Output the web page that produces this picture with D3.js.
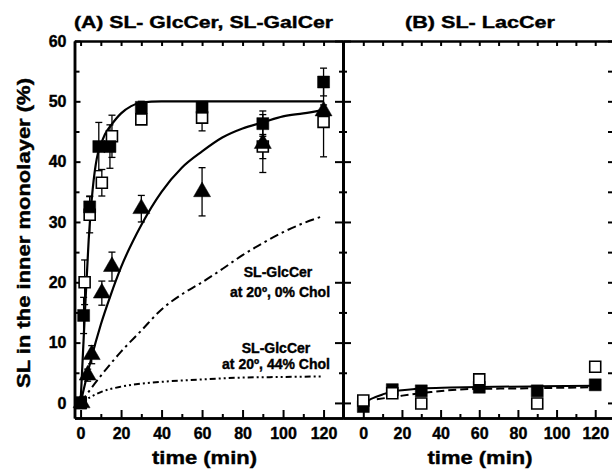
<!DOCTYPE html>
<html>
<head>
<meta charset="utf-8">
<script src="https://cdn.jsdelivr.net/npm/d3@7"></script>
<style>
    body { margin: 0; background: white; }
    svg { display: block; }
</style>
</head>
<body>
<div id="container"></div>
<script>
// panel A: SL-GlcCer / SL-GalCer, panel B: SL-LacCer

// panel A, filled squares
const aFilledTime = [0, 1.5, 4.5, 9, 14.5, 30, 60, 90, 120]
const aFilledVal = [0, 14.5, 32.5, 42.5, 42.5, 49, 49, 46.3, 53.2]
const aFilledErr = [0, 3, 1.8, 4, 3.6, 1, 0.8, 2.1, 2.3]

// panel A, open squares
const aOpenTime = [0, 2, 4.5, 10.5, 15.5, 30, 60, 90, 120]
const aOpenVal = [0, 20, 31.2, 36.5, 44.2, 47, 47.3, 42.5, 46.6]
const aOpenErr = [0, 3.7, 3, 2.2, 3.5, 0.8, 2.2, 2, 5.8]

// panel A, filled triangles
const aTriTime = [0.5, 3.5, 5.5, 10.5, 15.5, 30, 60, 90, 120]
const aTriVal = [0, 4.6, 8, 18.2, 22.6, 32.2, 35, 43, 48.4]
const aTriErr = [0, 1, 1.5, 2, 2.4, 2.2, 4, 4.8, 1]

// fitted curves
const fastTime = [0, 2, 4, 6, 8, 10, 12, 15, 20, 25, 30, 40, 60, 90, 120]
const fastVal = [0, 14, 27, 35.5, 40.5, 42.8, 44.5, 46, 48, 49.2, 49.8, 50, 50, 50, 50]
const slowTime = [0, 5, 10, 15, 20, 30, 40, 50, 60, 70, 80, 90, 100, 110, 120]
const slowVal = [0, 7, 13, 18, 22.5, 29.5, 35, 39, 41.7, 44, 45.5, 46.5, 47.5, 48, 48.6]
const chol0Time = [0, 10, 20, 30, 40, 50, 60, 70, 80, 90, 100, 110, 120]
const chol0Val = [0, 4.5, 8.5, 12, 15.5, 18, 20, 22.2, 24.5, 26.5, 28.3, 29.8, 31]
const chol44Time = [0, 5, 10, 20, 30, 40, 60, 80, 100, 120]
const chol44Val = [0, 1, 1.8, 2.7, 3.2, 3.5, 3.9, 4.2, 4.3, 4.4]

// panel B
const bTime = [0, 15, 30, 60, 90, 120]
const bFilledVal = [-0.6, 2.2, 2.0, 2.6, 2.0, 3.0]
const bOpenVal = [0.4, 1.6, -0.1, 3.9, -0.1, 6.0]
const bSolidTime = [0, 5, 10, 15, 20, 30, 45, 60, 90, 120]
const bSolidVal = [0, 0.8, 1.4, 1.9, 2.1, 2.4, 2.55, 2.65, 2.75, 2.85]
const bDashTime = [7, 20, 35, 55, 80, 120]
const bDashVal = [0.6, 1.2, 1.8, 2.3, 2.4, 2.6]

const xTicks = [0, 20, 40, 60, 80, 100, 120]
const xMinor = [10, 30, 50, 70, 90, 110]
const yTicks = [0, 10, 20, 30, 40, 50, 60]
const yMinor = [5, 15, 25, 35, 45, 55]

const w = 612
const h = 473
const font = "'Liberation Sans', Arial, Helvetica, sans-serif"

const svg = d3.select("#container")
    .append("svg")
    .attr("width", w)
    .attr("height", h)
    .style("font-family", font)

const xA = d3.scaleLinear().domain([-3, 129.6]).range([74.5, 343])
const xB = d3.scaleLinear().domain([-10.5, 129.2]).range([343, 613])
const y = d3.scaleLinear().domain([-2.5, 60]).range([418, 41])

function styleAxis(g, labels) {
    g.select(".domain").attr("stroke-width", 2.5)
    g.selectAll(".tick line").attr("stroke-width", 2)
    g.selectAll(".tick text")
        .style("font-family", font)
        .style("font-weight", "bold")
        .style("font-size", "16px")
        .attr("fill", "black")
        .attr("stroke", "black")
        .attr("stroke-width", 0.4)
    if (!labels) g.selectAll(".tick text").remove()
}

function addAxis(axis, transform, labels) {
    svg.append("g")
        .attr("transform", transform)
        .call(axis)
        .call((g) => styleAxis(g, labels))
}

// bottom axes
addAxis(d3.axisBottom(xA).tickValues(xTicks).tickSize(-8).tickSizeOuter(0).tickPadding(10), "translate(0,418)", true)
addAxis(d3.axisBottom(xA).tickValues(xMinor).tickSize(-4).tickSizeOuter(0), "translate(0,418)", false)
addAxis(d3.axisBottom(xB).tickValues(xTicks).tickSize(-8).tickSizeOuter(0).tickPadding(10), "translate(0,418)", true)
addAxis(d3.axisBottom(xB).tickValues(xMinor).tickSize(-4).tickSizeOuter(0), "translate(0,418)", false)

// top axes
addAxis(d3.axisTop(xA).tickValues(xTicks.concat(xMinor)).tickSize(-5).tickSizeOuter(0), "translate(0,41)", false)
addAxis(d3.axisTop(xB).tickValues(xTicks.concat(xMinor)).tickSize(-5).tickSizeOuter(0), "translate(0,41)", false)

// left axis of A
addAxis(d3.axisLeft(y).tickValues(yTicks).tickSize(-6).tickSizeOuter(0).tickPadding(8), "translate(74.5,0)", true)
addAxis(d3.axisLeft(y).tickValues(yMinor).tickSize(-5).tickSizeOuter(0), "translate(74.5,0)", false)

// divider between panels, ticks on both sides
addAxis(d3.axisLeft(y).tickValues(yTicks).tickSize(8).tickSizeOuter(0), "translate(343,0)", false)
addAxis(d3.axisRight(y).tickValues(yTicks).tickSize(8).tickSizeOuter(0), "translate(343,0)", false)
addAxis(d3.axisLeft(y).tickValues(yMinor).tickSize(4).tickSizeOuter(0), "translate(343,0)", false)
addAxis(d3.axisRight(y).tickValues(yMinor).tickSize(4).tickSizeOuter(0), "translate(343,0)", false)

// right axis of B
addAxis(d3.axisLeft(y).tickValues(yTicks.concat(yMinor)).tickSize(5).tickSizeOuter(0), "translate(613,0)", false)

// curves
function curve(xs, ts, vs, dash, width) {
    const line = d3.line()
        .x((d) => xs(d[0]))
        .y((d) => y(d[1]))
        .curve(d3.curveMonotoneX)
    svg.append("path")
        .datum(ts.map((t, i) => [t, vs[i]]))
        .attr("d", line)
        .attr("fill", "none")
        .attr("stroke", "black")
        .attr("stroke-width", width)
        .attr("stroke-dasharray", dash)
}

curve(xA, chol0Time, chol0Val, "9,4,2.5,4", 2)
curve(xA, chol44Time, chol44Val, "6,3,2,3,2,3", 2)
curve(xA, fastTime, fastVal, null, 2.2)
curve(xA, slowTime, slowVal, null, 2.2)
curve(xB, bSolidTime, bSolidVal, null, 2)
curve(xB, bDashTime, bDashVal, "8,4", 2)

// error bars
function errorBars(xs, ts, vs, es) {
    const data = ts.map((t, i) => ({ t: t, v: vs[i], e: es[i] })).filter((d) => d.e > 0)
    const g = svg.append("g")
        .attr("stroke", "black")
        .attr("stroke-width", 1.3)
    g.selectAll(null)
        .data(data)
        .enter()
        .append("line")
        .attr("x1", (d) => xs(d.t))
        .attr("x2", (d) => xs(d.t))
        .attr("y1", (d) => y(d.v - d.e))
        .attr("y2", (d) => y(d.v + d.e))
    g.selectAll(null)
        .data(data.flatMap((d) => [[d.t, d.v - d.e], [d.t, d.v + d.e]]))
        .enter()
        .append("line")
        .attr("x1", (d) => xs(d[0]) - 3.5)
        .attr("x2", (d) => xs(d[0]) + 3.5)
        .attr("y1", (d) => y(d[1]))
        .attr("y2", (d) => y(d[1]))
}

errorBars(xA, aOpenTime, aOpenVal, aOpenErr)
errorBars(xA, aFilledTime, aFilledVal, aFilledErr)
errorBars(xA, aTriTime, aTriVal, aTriErr)

// markers
function markers(xs, ts, vs, type, size, filled) {
    svg.append("g")
        .selectAll(null)
        .data(ts.map((t, i) => [t, vs[i]]))
        .enter()
        .append("path")
        .attr("d", d3.symbol().type(type).size(size))
        .attr("transform", (d) => `translate(${xs(d[0])},${y(d[1])})`)
        .attr("fill", filled ? "black" : "white")
        .attr("stroke", "black")
        .attr("stroke-width", filled ? 0.5 : 1.6)
}

markers(xA, aOpenTime, aOpenVal, d3.symbolSquare, 121, false)
markers(xA, aFilledTime, aFilledVal, d3.symbolSquare, 144, true)
markers(xA, aTriTime, aTriVal, d3.symbolTriangle, 125, true)
markers(xB, bTime, bFilledVal, d3.symbolSquare, 144, true)
markers(xB, bTime, bOpenVal, d3.symbolSquare, 121, false)

// texts
function label(text, x, yy, size, anchor, len) {
    const t = svg.append("text")
        .attr("x", x)
        .attr("y", yy)
        .attr("text-anchor", anchor)
        .attr("stroke", "black")
        .attr("stroke-width", 0.4)
        .style("font-weight", "bold")
        .style("font-size", `${size}px`)
        .text(text)
    if (len) t.attr("textLength", len).attr("lengthAdjust", "spacingAndGlyphs")
    return t
}

label("(A) SL- GlcCer, SL-GalCer", 74, 28, 17, "start", 259)
label("(B) SL- LacCer", 405, 28, 17, "start", 150)
label("time (min)", 204.5, 464, 19, "middle", 105)
label("time (min)", 480, 464, 19, "middle", 105)
label("SL-GlcCer", 278, 277, 14, "middle")
label("at 20º, 0% Chol", 280, 297, 14, "middle")
label("SL-GlcCer", 276, 353, 14, "middle")
label("at 20º, 44% Chol", 276, 369, 14, "middle")

svg.append("text")
    .attr("transform", "translate(30,233) rotate(-90)")
    .attr("text-anchor", "middle")
    .attr("textLength", 310)
    .attr("lengthAdjust", "spacingAndGlyphs")
    .attr("stroke", "black")
    .attr("stroke-width", 0.4)
    .style("font-weight", "bold")
    .style("font-size", "19px")
    .text("SL in the inner monolayer (%)")
</script>
</body>
</html>
